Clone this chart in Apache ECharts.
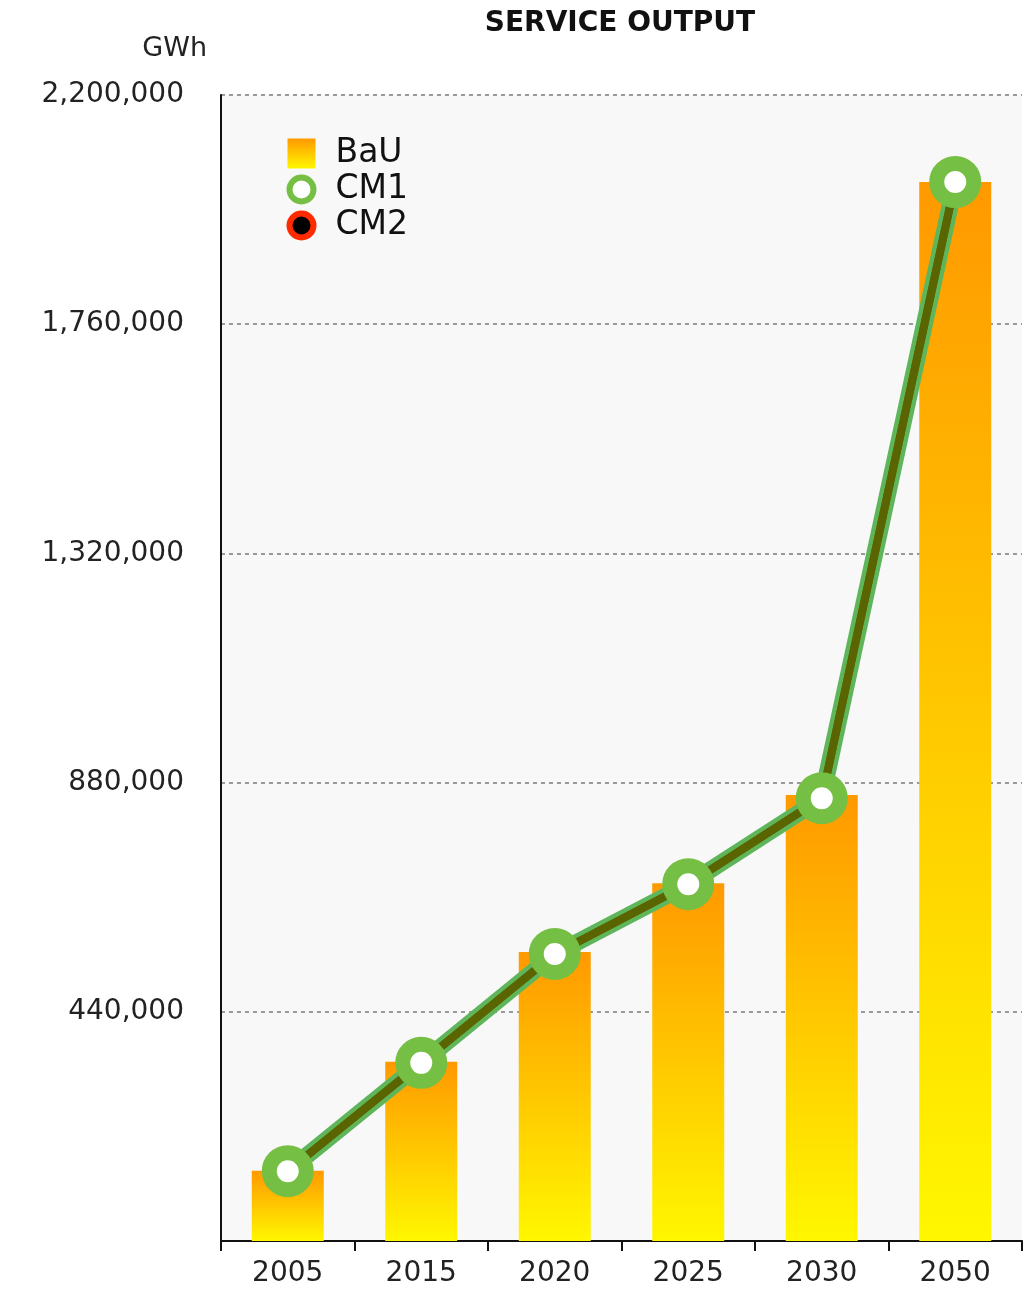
<!DOCTYPE html>
<html>
<head>
<meta charset="utf-8">
<script src="https://cdn.jsdelivr.net/npm/echarts@6/dist/echarts.min.js"></script>
<style>
	html, body { margin: 0; padding: 0; background: #fff; }
	#chart { width: 1032px; height: 1289px; }
</style>
</head>
<body>
<div id="chart"></div>
<script>
var years = ['2005', '2015', '2020', '2025', '2030', '2050'];
var bauValues = [135000, 344000, 555000, 687000, 856000, 2033000];
var cm1Values = [134000, 342000, 551000, 685000, 850000, 2033000];
var cm2Values = [134000, 342000, 551000, 685000, 850000, 2033000];
var yTicks = [0, 440000, 880000, 1320000, 1760000, 2200000];

var font = 'DejaVu Sans';

function barGradient() {
	return new echarts.graphic.LinearGradient(0, 0, 0, 1, [
		{offset: 0, color: '#ff9900'},
		{offset: 1, color: '#fff700'}
	]);
}

var myChart = echarts.init(document.getElementById('chart'));

var option = {
	backgroundColor: '#ffffff',
	animation: false,
	title: {
		text: 'SERVICE OUTPUT',
		left: 615,
		top: 5,
		textAlign: 'center',
		textStyle: {fontFamily: font, fontWeight: 'bold', fontSize: 28, color: '#111'}
	},
	legend: {
		orient: 'vertical',
		left: 285,
		top: 137,
		padding: 0,
		itemWidth: 28,
		itemHeight: 30,
		itemGap: 3,
		textStyle: {fontFamily: font, fontSize: 33, color: '#111', padding: [0, 0, 0, 15]},
		data: [
			{name: 'BaU', icon: 'rect', itemStyle: {color: barGradient()}},
			{name: 'CM1', lineStyle: {color: '#76bf45', width: 5}, itemStyle: {color: '#fff', borderColor: '#76bf45', borderWidth: 6}},
			{name: 'CM2', lineStyle: {color: '#ff2a00', width: 5}, itemStyle: {color: '#000', borderColor: '#ff2a00', borderWidth: 6}}
		]
	},
	grid: {
		left: 221,
		right: 10,
		top: 95,
		bottom: 48,
		show: true,
		backgroundColor: '#f8f8f8',
		borderWidth: 0
	},
	xAxis: {
		type: 'category',
		data: years,
		boundaryGap: true,
		axisLine: {lineStyle: {color: '#111', width: 2}},
		axisTick: {show: true, length: 10, lineStyle: {color: '#111', width: 2}},
		axisLabel: {fontFamily: font, fontSize: 28, color: '#222', margin: 19}
	},
	yAxis: {
		type: 'value',
		min: yTicks[0],
		max: yTicks[yTicks.length - 1],
		interval: yTicks[1] - yTicks[0],
		name: 'GWh',
		nameLocation: 'end',
		nameGap: 33,
		nameTextStyle: {fontFamily: font, fontSize: 27, color: '#222', align: 'right', padding: [0, 14, 0, 0]},
		axisLine: {show: true, lineStyle: {color: '#111', width: 2}},
		axisTick: {show: false},
		splitLine: {show: true, lineStyle: {color: '#999', width: 2, type: [4, 4]}},
		axisLabel: {
			fontFamily: font,
			fontSize: 28,
			color: '#222',
			margin: 37,
			showMinLabel: false,
			formatter: function(v){ return v.toLocaleString('en-US'); }
		}
	},
	series: [
		{
			name: 'BaU',
			type: 'bar',
			data: bauValues,
			barWidth: 72,
			itemStyle: {color: barGradient()}
		},
		{
			// green halo under the line
			name: 'halo',
			type: 'line',
			data: cm1Values,
			symbol: 'none',
			silent: true,
			z: 3,
			lineStyle: {color: '#5fb55a', width: 17}
		},
		{
			name: 'CM2',
			type: 'line',
			data: cm2Values,
			z: 4,
			symbol: 'circle',
			symbolSize: 30,
			lineStyle: {color: '#5a6400', width: 8},
			itemStyle: {color: '#000', borderColor: '#ff2a00', borderWidth: 10}
		},
		{
			name: 'CM1',
			type: 'line',
			data: cm1Values,
			z: 5,
			symbol: 'circle',
			symbolSize: 37,
			lineStyle: {color: '#5a6400', width: 8},
			itemStyle: {color: '#ffffff', borderColor: '#76bf45', borderWidth: 15}
		}
	]
};

myChart.setOption(option);
</script>
</body>
</html>
